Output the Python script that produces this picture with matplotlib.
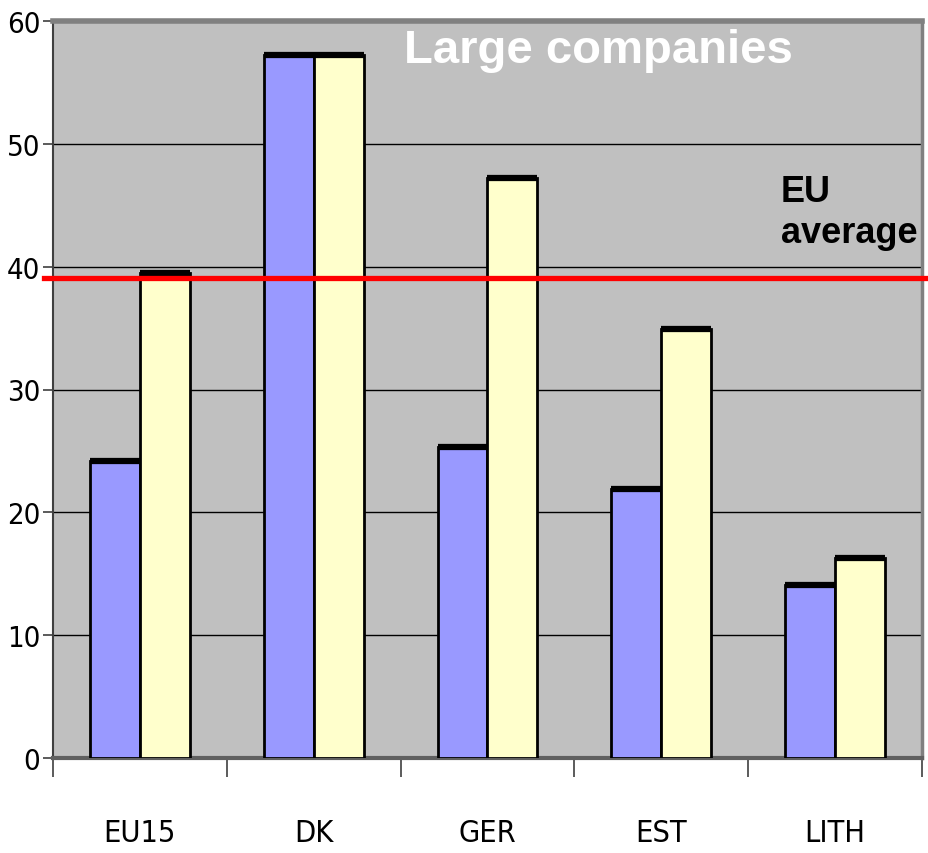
import matplotlib
matplotlib.use("Agg")
import matplotlib.pyplot as plt
import numpy as np

categories = ["EU15", "DK", "GER", "EST", "LITH"]
series_blue = [24.2, 57.2, 25.3, 21.9, 14.1]
series_yellow = [39.5, 57.2, 47.2, 34.9, 16.3]
eu_average = 39.1
y_ticks = [0, 10, 20, 30, 40, 50, 60]
title = "Large companies"
avg_line1 = "EU"
avg_line2 = "average"

narrow = ['DejaVu Sans']
bold = ['Liberation Sans', 'DejaVu Sans']

fig = plt.figure(figsize=(9.29, 8.54), dpi=100)
ax = fig.add_axes([53/929, 1-759/854, (922-53)/929, (759-22)/854])
ax.set_facecolor('#C0C0C0')

x = np.arange(len(categories))
w = 0.287
bl = ax.bar(x - w/2, series_blue, w, color='#9999FF', edgecolor='black', linewidth=2, zorder=3)
yl = ax.bar(x + w/2, series_yellow, w, color='#FFFFCC', edgecolor='black', linewidth=2, zorder=3)
for bars in (bl, yl):
    for r in bars:
        ax.plot([r.get_x(), r.get_x() + r.get_width()], [r.get_height(), r.get_height()],
                color='black', linewidth=4.5, solid_capstyle='butt', zorder=4)

ax.set_xlim(-0.5, len(categories) - 0.5)
ax.set_ylim(0, 60)
ax.set_yticks(y_ticks)
ax.set_yticklabels([str(v) for v in y_ticks], family=narrow, fontstretch='condensed', fontsize=21)
for v in y_ticks[1:-1]:
    ax.axhline(v, color='black', linewidth=1, zorder=1)

ax.set_xticks(np.arange(-0.5, len(categories), 1.0))
ax.set_xticklabels([])
ax.set_xticks(x, minor=True)
ax.set_xticklabels(categories, minor=True, family=narrow, fontstretch='condensed', fontsize=22)
ax.tick_params(axis='x', which='major', length=14, width=1.2, color='#404040', direction='out')
ax.tick_params(axis='x', which='minor', length=0, pad=43)
ax.tick_params(axis='y', length=7, width=1.2, color='#404040', pad=2)

ax.spines['top'].set_color('#808080')
ax.spines['top'].set_linewidth(4)
ax.spines['right'].set_color('#808080')
ax.spines['right'].set_linewidth(2.5)
ax.spines['left'].set_color('#404040')
ax.spines['left'].set_linewidth(1.5)
ax.spines['bottom'].set_color('#606060')
ax.spines['bottom'].set_linewidth(3)

ax.plot([-0.01, 1.01], [eu_average, eu_average], transform=ax.get_yaxis_transform(),
        color='#FF0000', linewidth=3.8, clip_on=False, zorder=5)

ax.text(0.628, (759-63)/737, title, transform=ax.transAxes, ha='center', va='baseline',
        color='white', fontsize=34, fontweight='bold', family=bold, zorder=6)
ax.text((781-53)/869, (759-202)/737, avg_line1, transform=ax.transAxes, ha='left', va='baseline',
        color='black', fontsize=26, fontweight='bold', family=bold, zorder=6)
ax.text((781-53)/869, (759-243)/737, avg_line2, transform=ax.transAxes, ha='left', va='baseline',
        color='black', fontsize=26, fontweight='bold', family=bold, zorder=6)

fig.savefig("out.png", dpi=100)
